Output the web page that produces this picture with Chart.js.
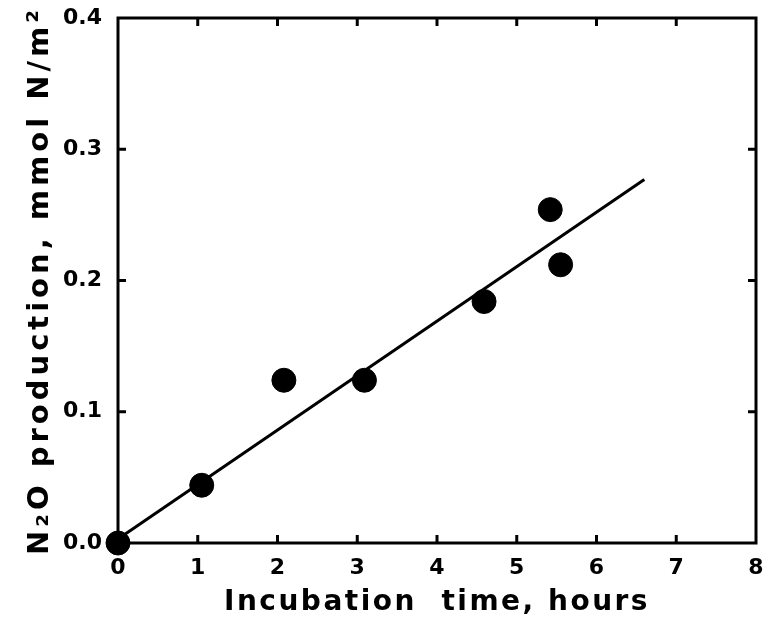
<!DOCTYPE html>
<html>
<head>
<meta charset="utf-8">
<script src="https://cdn.jsdelivr.net/npm/chart.js@4/dist/chart.umd.min.js"></script>
<style>
html,body{margin:0;padding:0;background:#fff;}
#wrap{width:769px;height:624px;}
</style>
</head>
<body>
<div id="wrap"><canvas id="c" width="769" height="624"></canvas></div>
<script>
// Data
const timeHours = [0, 1.05, 2.08, 3.09, 4.59, 5.42, 5.55];
const n2oProduction = [0.0, 0.044, 0.124, 0.124, 0.184, 0.254, 0.212];
const fitLineX = [0, 6.6];
const fitLineY = [0.003, 0.277];
const xTicks = [0, 1, 2, 3, 4, 5, 6, 7, 8];
const yTicks = [0.0, 0.1, 0.2, 0.3, 0.4];

const FONT = "'DejaVu Sans', sans-serif";

function spacedTitle(scale, spacing) {
  if (scale._spacedTitle) return;
  scale._spacedTitle = true;
  const orig = scale.drawTitle;
  scale.drawTitle = function () {
    const ctx = this.ctx;
    const prev = ctx.letterSpacing;
    ctx.letterSpacing = spacing;
    orig.apply(this, arguments);
    ctx.letterSpacing = prev || '0px';
  };
}

const frameAndInnerTicks = {
  id: 'frameAndInnerTicks',
  afterDraw(chart) {
    const {ctx, chartArea: a, scales} = chart;
    ctx.save();
    ctx.strokeStyle = '#000';
    ctx.lineWidth = 3;
    ctx.strokeRect(a.left, a.top, a.right - a.left, a.bottom - a.top);
    const len = 8;
    xTicks.forEach(v => {
      if (v === xTicks[0] || v === xTicks[xTicks.length - 1]) return;
      const px = scales.x.getPixelForValue(v);
      ctx.beginPath();
      ctx.moveTo(px, a.bottom); ctx.lineTo(px, a.bottom - len);
      ctx.moveTo(px, a.top); ctx.lineTo(px, a.top + len);
      ctx.stroke();
    });
    yTicks.forEach(v => {
      if (v === yTicks[0] || v === yTicks[yTicks.length - 1]) return;
      const py = scales.y.getPixelForValue(v);
      ctx.beginPath();
      ctx.moveTo(a.left, py); ctx.lineTo(a.left + len, py);
      ctx.moveTo(a.right, py); ctx.lineTo(a.right - len, py);
      ctx.stroke();
    });
    ctx.restore();
  }
};

new Chart(document.getElementById('c'), {
  type: 'scatter',
  data: {
    datasets: [
      {
        label: 'fit',
        data: fitLineX.map((x, i) => ({x, y: fitLineY[i]})),
        showLine: true,
        borderColor: '#000',
        borderWidth: 3,
        pointRadius: 0,
        clip: false,
        order: 2
      },
      {
        label: 'N2O',
        data: timeHours.map((x, i) => ({x, y: n2oProduction[i]})),
        backgroundColor: '#000',
        borderColor: '#000',
        pointRadius: 12,
        clip: false,
        order: 1
      }
    ]
  },
  options: {
    responsive: false,
    animation: false,
    devicePixelRatio: 1,
    layout: {padding: {left: 0, right: 7, top: 18, bottom: 0}},
    plugins: {legend: {display: false}, tooltip: {enabled: false}},
    scales: {
      x: {
        type: 'linear', min: 0, max: 8,
        afterBuildTicks(s) { s.ticks = xTicks.map(v => ({value: v})); },
        afterFit(s) { s.height = 81; s.paddingLeft = 0; s.paddingRight = 0; spacedTitle(s, '2.5px'); },
        grid: {display: false, drawTicks: false},
        border: {display: false},
        ticks: {color: '#000', padding: 12, font: {family: FONT, size: 22, weight: 'bold'}},
        title: {
          display: true, text: 'Incubation  time, hours', color: '#000',
          font: {family: FONT, size: 28, weight: 'bold'},
          padding: {top: 0, bottom: 4}
        }
      },
      y: {
        type: 'linear', min: 0, max: 0.4,
        afterBuildTicks(s) { s.ticks = yTicks.map(v => ({value: v})); },
        afterFit(s) { s.width = 118; s.paddingTop = 0; s.paddingBottom = 0; spacedTitle(s, '4px'); },
        grid: {display: false, drawTicks: false},
        border: {display: false},
        ticks: {color: '#000', padding: 16, font: {family: FONT, size: 22, weight: 'bold'},
          callback: v => Number(v).toFixed(1)},
        title: {
          display: true, text: 'N\u2082O production, mmol N/m\u00B2', color: '#000',
          font: {family: FONT, size: 29, weight: 'bold'},
          padding: {top: 23, bottom: 0}
        }
      }
    }
  },
  plugins: [frameAndInnerTicks]
});
</script>
</body>
</html>
